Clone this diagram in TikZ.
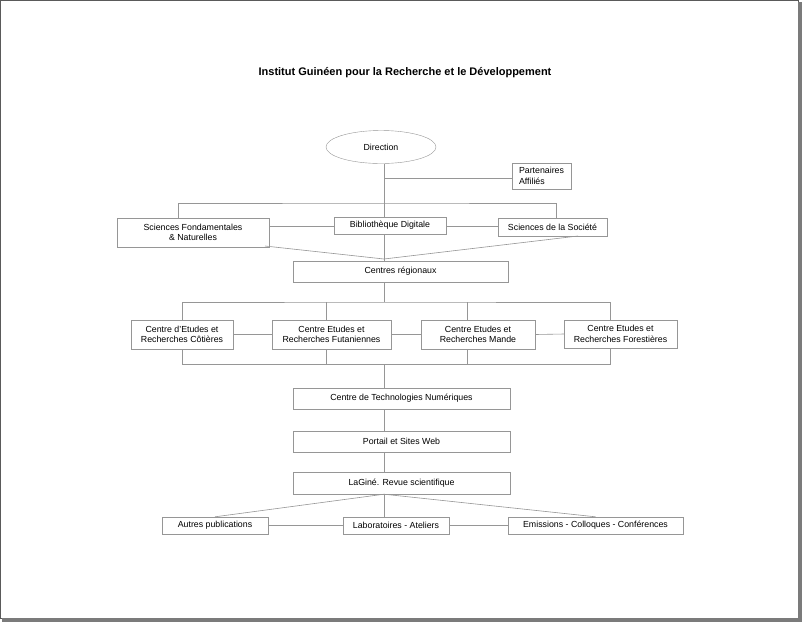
\documentclass[tikz,border=0pt]{standalone}
\usepackage{fontspec}
\setmainfont{Liberation Sans}
\definecolor{linegray}{RGB}{150,150,150}
\definecolor{framegray}{RGB}{90,90,90}
\usetikzlibrary{shapes.geometric, positioning, calc}

\begin{document}
\begin{tikzpicture}[x=1pt, y=-1pt,
  box/.style={draw=linegray, fill=white, align=center, inner sep=1pt, font=\fontsize{8.8}{10.5}\selectfont},
  lnk/.style={draw=linegray, line width=0.6pt}
]
  % frame
  \fill[white] (0,0) rectangle (802,622);
  \draw[framegray, line width=1pt] (0.5,0.5) rectangle (798,618);
  \fill[framegray!80] (798,2) rectangle (802,622);
  \fill[framegray!80] (2,618) rectangle (802,622);
  \node[font=\bfseries\fontsize{11}{13}\selectfont] (title) at (405,73) {Institut Guinéen pour la Recherche et le Développement};

  % nodes
  \node[box, ellipse, minimum width=110pt, minimum height=33pt] (dir) at (381,147) {Direction};
  \node[box, minimum width=59pt, minimum height=26pt, align=left] (part) at (541.5,176) {Partenaires\\Affiliés};
  \node[box, minimum width=152pt, minimum height=29pt] (sf) at (193,232.5) {Sciences Fondamentales\\\& Naturelles};
  \node[box, minimum width=112pt, minimum height=17pt] (bib) at (390,225.5) {Bibliothèque Digitale};
  \node[box, minimum width=109pt, minimum height=18pt] (soc) at (552.5,227) {Sciences de la Société};
  \node[box, minimum width=215pt, minimum height=21pt] (reg) at (400.5,271.5) {Centres régionaux};
  \node[box, minimum width=102pt, minimum height=29pt] (c1) at (182,334.5) {Centre d'Etudes et\\Recherches Côtières};
  \node[box, minimum width=119pt, minimum height=29pt] (c2) at (331.5,334.5) {Centre Etudes et\\Recherches Futaniennes};
  \node[box, minimum width=114pt, minimum height=29pt] (c3) at (478,334.5) {Centre Etudes et\\Recherches Mande};
  \node[box, minimum width=113pt, minimum height=28pt] (c4) at (620.5,334) {Centre Etudes et\\Recherches Forestières};
  \node[box, minimum width=217pt, minimum height=21pt] (tech) at (401.5,398.5) {Centre de Technologies Numériques};
  \node[box, minimum width=217pt, minimum height=21pt] (web) at (401.5,441.5) {Portail et Sites Web};
  \node[box, minimum width=217pt, minimum height=22pt] (rev) at (401.5,483) {LaGiné. Revue scientifique};
  \node[box, minimum width=106pt, minimum height=17pt] (aut) at (215,525.5) {Autres publications};
  \node[box, minimum width=106pt, minimum height=17pt] (lab) at (396,525.5) {Laboratoires - Ateliers};
  \node[box, minimum width=175pt, minimum height=17pt] (emi) at (595.5,525.5) {Emissions - Colloques - Conférences};

  \coordinate (hub) at (384,259);
  \coordinate (bar0) at (384,203);
  \coordinate (bar1) at (384,302);
  \coordinate (bar2) at (384,364);

  % connectors
  \draw[lnk] (dir.south -| hub) -- (bib.north -| hub);
  \draw[lnk] (bib.south -| hub) -- (reg.north -| hub);
  \draw[lnk] (384,178) -- (part.west |- 0,178);
  \draw[lnk] (sf.north -| 178,0) |- (bar0) -| (soc.north -| 556,0);
  \draw[lnk] (sf.east |- 0,226) -- (bib.west |- 0,226);
  \draw[lnk] (bib.east |- 0,226) -- (soc.west |- 0,226);
  \draw[lnk] (265,246) -- (hub) -- (578,236);
  \draw[lnk] (reg.south -| bar1) -- (bar1);
  \draw[lnk] (c1.north) |- (bar1) -| (c4.north -| 610,0);
  \draw[lnk] (c2.north -| 326,0) -- (326,302);
  \draw[lnk] (c3.north -| 467,0) -- (467,302);
  \draw[lnk] (c1.south) |- (bar2) -| (c4.south -| 610,0);
  \draw[lnk] (c2.south -| 326,0) -- (326,364);
  \draw[lnk] (c3.south -| 467,0) -- (467,364);
  \draw[lnk] (c1.east) -- (c2.west);
  \draw[lnk] (c2.east) -- (c3.west);
  \draw[lnk] (c3.east) -- (c4.west);
  \draw[lnk] (bar2) -- (tech.north -| bar2);
  \draw[lnk] (tech.south -| bar2) -- (web.north -| bar2);
  \draw[lnk] (web.south -| bar2) -- (rev.north -| bar2);
  \draw[lnk] (aut.north) -- (rev.south -| bar2) -- (emi.north);
  \draw[lnk] (rev.south -| bar2) -- (lab.north -| bar2);
  \draw[lnk] (aut.east) -- (lab.west);
  \draw[lnk] (lab.east) -- (emi.west);
\end{tikzpicture}
\end{document}
